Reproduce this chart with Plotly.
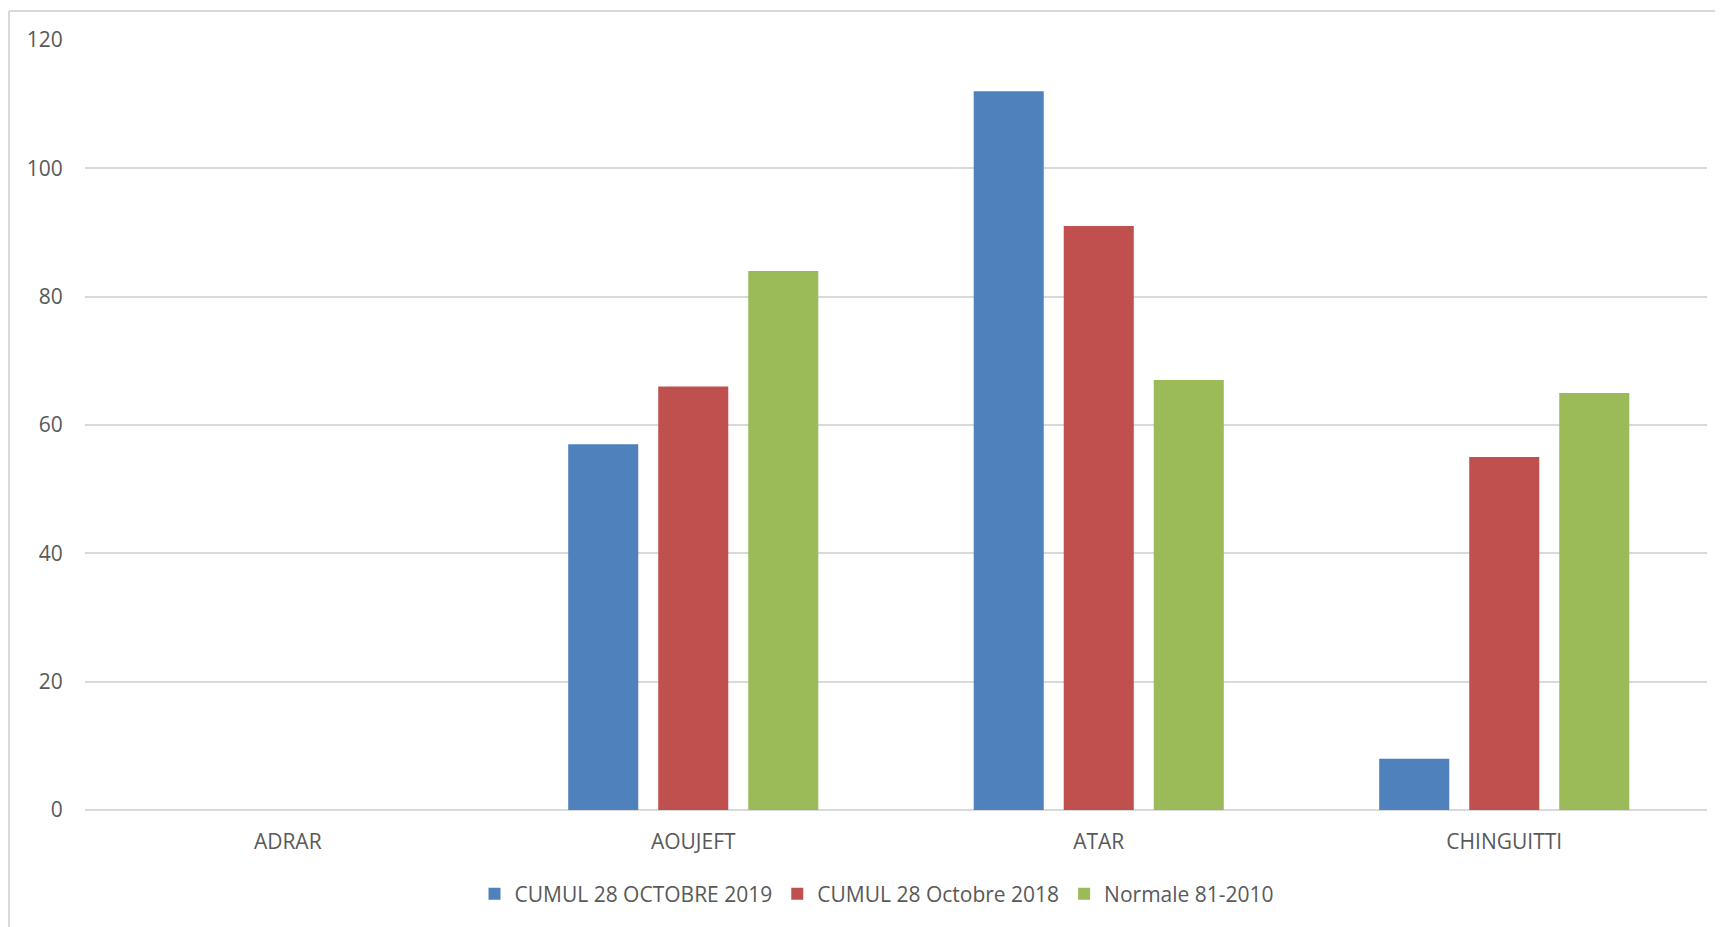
import plotly.graph_objects as go

categories = ["ADRAR", "AOUJEFT", "ATAR", "CHINGUITTI"]
cumul_2019 = [None, 57, 112, 8]
cumul_2018 = [None, 66, 91, 55]
normale = [None, 84, 67, 65]
series_names = ["CUMUL 28 OCTOBRE 2019", "CUMUL 28 Octobre 2018", "Normale 81-2010"]
colors = ["#4F81BD", "#C0504D", "#9BBB59"]
y_ticks = [0, 20, 40, 60, 80, 100, 120]

OFF = 8  # page body margin
W, H = 1723 - OFF, 927 - OFF
L, R, T, B = 85 - OFF, 16, 40 - OFF, 117
pw, ph = W - L - R, H - T - B

fig = go.Figure()
for name, vals, c in zip(series_names, [cumul_2019, cumul_2018, normale], colors):
    fig.add_trace(go.Bar(x=categories, y=vals, name=name, marker=dict(color=c, line=dict(width=0))))

font_family = "Open Sans, Noto Sans, sans-serif"
txt = "#595959"
fs = 21

def px_x(x):
    return (x - OFF - L) / pw

def px_y(y):
    return (H - B - (y - OFF)) / ph

fig.update_layout(
    width=W, height=H,
    margin=dict(l=L, r=R, t=T, b=B, pad=0),
    paper_bgcolor="white", plot_bgcolor="white",
    barmode="group", bargap=0.334, bargroupgap=0.222,
    font=dict(family=font_family, color=txt, size=fs),
    showlegend=True,
    legend=dict(orientation="h", x=px_x(877), xanchor="center", y=px_y(894), yanchor="middle",
                font=dict(size=fs, color=txt), itemsizing="constant", traceorder="normal",
                itemwidth=30, tracegroupgap=0),
    xaxis=dict(showgrid=False, showline=False, ticks="outside", ticklen=13, tickcolor="rgba(0,0,0,0)",
               tickfont=dict(size=fs, color=txt), fixedrange=True),
    yaxis=dict(range=[0, 120], tickvals=y_ticks, showgrid=True, gridcolor="#D9D9D9", gridwidth=1.5,
               zeroline=True, zerolinecolor="#D9D9D9", zerolinewidth=1.5, showline=False,
               ticks="outside", ticklen=17, tickcolor="rgba(0,0,0,0)",
               tickfont=dict(size=fs, color=txt)),
    shapes=[
        dict(type="line", xref="paper", yref="paper", x0=px_x(9), x1=px_x(1723 + 5), y0=px_y(11), y1=px_y(11),
             line=dict(color="#D9D9D9", width=2)),
        dict(type="line", xref="paper", yref="paper", x0=px_x(9), x1=px_x(9), y0=px_y(11), y1=px_y(927 + 5),
             line=dict(color="#D9D9D9", width=2)),
    ],
)

fig.write_html("out.html")
